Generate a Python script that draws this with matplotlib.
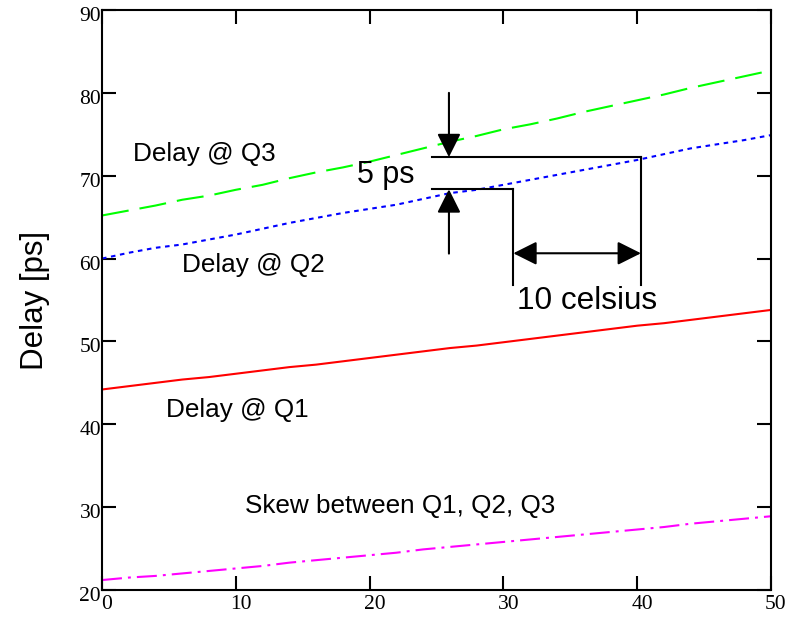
import matplotlib
matplotlib.use("Agg")
import matplotlib.pyplot as plt
import matplotlib.transforms as mtransforms

x = [0, 2, 4, 6, 8, 10, 12, 14, 16, 18, 20, 22, 24, 26, 28, 30, 32, 34, 36, 38, 40, 42, 44, 46, 48, 50]
delay_q3 = [65.2, 65.8, 66.4, 67.1, 67.6, 68.3, 68.9, 69.7, 70.4, 71.0, 71.7, 72.5, 73.3, 74.1, 74.8, 75.6, 76.2, 76.9, 77.7, 78.4, 79.1, 79.8, 80.6, 81.3, 82.0, 82.7]
delay_q2 = [60.0, 60.7, 61.3, 61.7, 62.3, 62.9, 63.6, 64.3, 64.9, 65.5, 66.0, 66.5, 67.2, 67.9, 68.3, 68.9, 69.5, 70.1, 70.7, 71.3, 71.9, 72.6, 73.3, 73.8, 74.3, 74.9]
delay_q1 = [44.2, 44.6, 45.0, 45.4, 45.7, 46.1, 46.5, 46.9, 47.2, 47.6, 48.0, 48.4, 48.8, 49.2, 49.5, 49.9, 50.3, 50.7, 51.1, 51.5, 51.9, 52.2, 52.6, 53.0, 53.4, 53.8]
skew = [21.2, 21.5, 21.7, 22.0, 22.3, 22.6, 22.9, 23.3, 23.6, 23.9, 24.2, 24.5, 24.9, 25.2, 25.5, 25.8, 26.1, 26.4, 26.7, 27.0, 27.3, 27.6, 28.0, 28.3, 28.6, 28.9]
xticks = [0, 10, 20, 30, 40, 50]
yticks = [20, 30, 40, 50, 60, 70, 80, 90]

SANS = "Liberation Sans"
SERIF = "Liberation Serif"

fig = plt.figure(figsize=(7.91, 6.17), dpi=100)
ax = fig.add_axes([102 / 791, 1 - 590 / 617, 669 / 791, 580 / 617])

lw = 1.5
ax.plot(x, delay_q3, color="#00ff00", lw=lw, dashes=(13, 5.3), dash_capstyle="butt")
ax.plot(x, delay_q2, color="#0000ff", lw=lw, dashes=(2.2, 2.2), dash_capstyle="butt")
ax.plot(x, delay_q1, color="#ff0000", lw=lw)
ax.plot(x, skew, color="#ff00ff", lw=lw, dashes=(9.6, 2.9, 1.4, 2.9), dash_capstyle="butt")

ax.set_xlim(0, 50)
ax.set_ylim(20, 90)
ax.set_xticks(xticks)
ax.set_yticks(yticks)
ax.set_xticklabels([str(v) for v in xticks], family=SERIF, fontsize=15.5)
ax.set_yticklabels([str(v) for v in yticks], family=SERIF, fontsize=15.5)
ax.tick_params(direction="in", length=10, width=1.5, top=True, right=True)
ax.tick_params(axis="y", pad=0.7)
ax.tick_params(axis="x", pad=3.5)
for s in ax.spines.values():
    s.set_linewidth(1.5)

off_y = mtransforms.ScaledTranslation(0, -6.5 / 100, fig.dpi_scale_trans)
for lab in ax.get_yticklabels():
    lab.set_verticalalignment("center")
    lab.set_transform(lab.get_transform() + off_y)
off_x = mtransforms.ScaledTranslation(5 / 100, 0, fig.dpi_scale_trans)
for lab in ax.get_xticklabels():
    lab.set_transform(lab.get_transform() + off_x)

ax.set_ylabel("Delay [ps]", family=SANS, fontsize=22.5, labelpad=21)

tfs = 18.8
ax.text(2.32, 71.77, "Delay @ Q3", family=SANS, fontsize=tfs, va="baseline")
ax.text(5.98, 58.38, "Delay @ Q2", family=SANS, fontsize=tfs, va="baseline")
ax.text(4.78, 40.88, "Delay @ Q1", family=SANS, fontsize=tfs, va="baseline")
ax.text(10.69, 29.29, "Skew between Q1, Q2, Q3", family=SANS, fontsize=tfs, va="baseline")
ax.text(19.06, 69.12, "5 ps", family=SANS, fontsize=22, va="baseline")
ax.text(31.0, 53.91, "10 celsius", family=SANS, fontsize=22.7, va="baseline")

# dimension lines
k = dict(color="black", lw=1.5)
y_up, y_lo = 72.24, 68.36
x_l, x_m, x_r = 24.66, 30.74, 40.28
y_bot = 56.8
ax.plot([x_l, x_r], [y_up, y_up], **k)
ax.plot([x_r, x_r], [y_up, y_bot], **k)
ax.plot([x_l, x_m], [y_lo, y_lo], **k)
ax.plot([x_m, x_m], [y_lo, y_bot], **k)

ap = dict(arrowstyle="-|>,head_length=14.4,head_width=7.2", color="black", lw=1.5,
          shrinkA=0, shrinkB=0, mutation_scale=1)
xa = 25.93
ax.annotate("", xy=(xa, y_up), xytext=(xa, 80.0), arrowprops=ap)
ax.annotate("", xy=(xa, y_lo), xytext=(xa, 60.6), arrowprops=ap)
ap2 = dict(ap)
ap2["arrowstyle"] = "<|-|>,head_length=14.4,head_width=7.2"
ax.annotate("", xy=(x_r, 60.64), xytext=(x_m, 60.64), arrowprops=ap2)

fig.savefig("out.png", dpi=100)
